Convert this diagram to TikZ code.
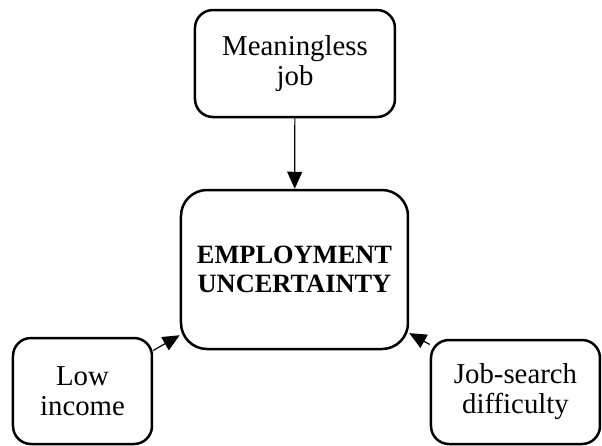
\documentclass[tikz,border=0pt]{standalone}
\usepackage{fontspec}
\setmainfont{Liberation Serif}
\usetikzlibrary{arrows.meta,positioning}

\begin{document}
\begin{tikzpicture}[x=0.5pt,y=-0.5pt,
    box/.style={draw,line width=1.25pt,rounded corners=9pt,align=center,inner sep=0pt,
      font=\fontsize{14.4}{15}\selectfont},
    conn/.style={line width=0.6pt,-{Triangle[length=8.5pt,width=7.5pt]}}]
  \useasboundingbox (0,0) rectangle (602,446);
  \node[box,minimum width=100pt,minimum height=53.5pt] (job) at (295,63.5) {Meaningless\\job};
  \node[box,minimum width=113.5pt,minimum height=79.5pt,rounded corners=13pt,
    font=\fontsize{13.2}{14.2}\selectfont\bfseries] (unc) at (294.5,269.5) {EMPLOYMENT\\UNCERTAINTY};
  \node[box,minimum width=69.5pt,minimum height=53pt] (income) at (82.5,391) {Low\\income};
  \node[box,minimum width=84.5pt,minimum height=52pt] (search) at (515.5,392) {Job-search\\difficulty};
  \draw[conn] (job) -- (unc);
  \draw[conn] (income) -- (unc);
  \draw[conn] (search) -- (unc);
\end{tikzpicture}
\end{document}
